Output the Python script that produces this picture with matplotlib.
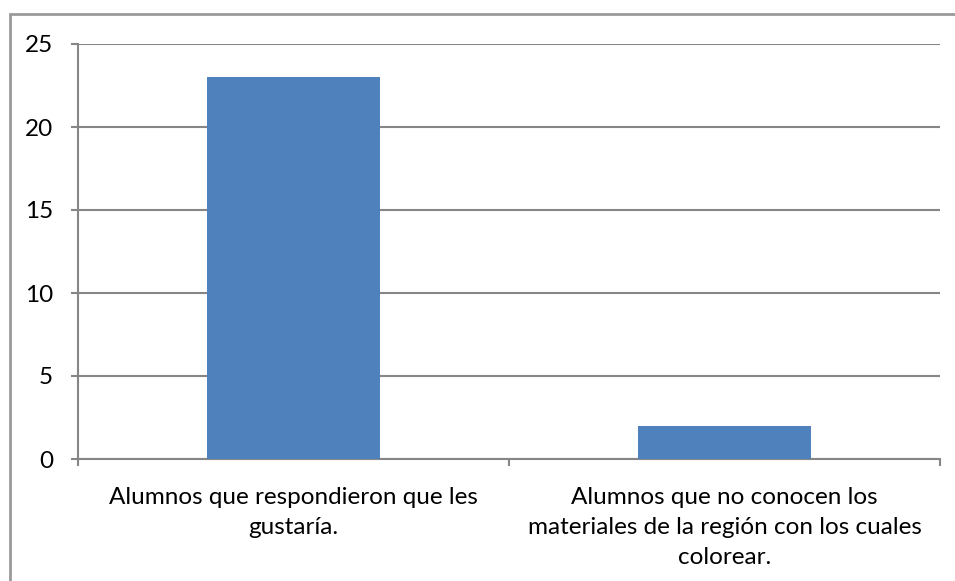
import matplotlib.pyplot as plt
from matplotlib.patches import Rectangle

# data
categorias = ["Alumnos que respondieron que les\ngustaría.",
              "Alumnos que no conocen los\nmateriales de la región con los cuales\ncolorear."]
valores = [23, 2]
y_ticks = [0, 5, 10, 15, 20, 25]

gris = "#868686"
azul = "#4F81BD"

plt.rcParams['font.family'] = ['Lato', 'DejaVu Sans']

fig = plt.figure(figsize=(9.55, 5.81), dpi=100)
ax = fig.add_axes([78 / 955, 1 - 459 / 581, (940 - 78) / 955, (459 - 44) / 581])

x = list(range(len(categorias)))
ax.bar(x, valores, width=0.4, color=azul, zorder=3)

ax.set_xlim(-0.5, len(categorias) - 0.5)
ax.set_ylim(0, 25)
ax.set_yticks(y_ticks)
ax.set_yticklabels([str(v) for v in y_ticks], fontsize=17.5)
ax.yaxis.grid(True, color=gris, linewidth=1.5, zorder=0)

# category boundaries get the tick marks, labels sit in the middle
ax.set_xticks([i - 0.5 for i in range(len(categorias) + 1)])
ax.set_xticklabels([])
ax.set_xticks(x, minor=True)
ax.set_xticklabels(categorias, minor=True, fontsize=17.5, linespacing=1.55)
ax.tick_params(axis='x', which='minor', length=0, pad=20)
ax.tick_params(axis='x', which='major', length=5, width=1.5, color=gris)
ax.tick_params(axis='y', length=5, width=1.5, color=gris, pad=13)

for s in ['top', 'right']:
    ax.spines[s].set_visible(False)
for s in ['left', 'bottom']:
    ax.spines[s].set_color(gris)
    ax.spines[s].set_linewidth(1.5)

# outer frame, only top and left edges show inside the image
fig.add_artist(Rectangle((10 / 955, -0.1), 1.2, 1.1 - 14 / 581, transform=fig.transFigure,
                         fill=False, edgecolor="#9a9a9a", linewidth=2))

fig.savefig("out.png", dpi=100)
